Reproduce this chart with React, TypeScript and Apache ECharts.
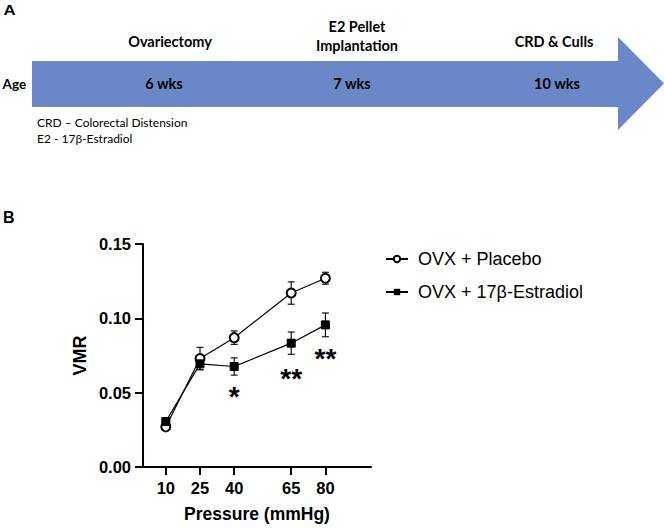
import React, { useEffect, useRef } from "react";
import * as echarts from "echarts";

// ---------- Data ----------
const pressures = [10, 25, 40, 65, 80];
const placeboMean = [0.027, 0.073, 0.087, 0.117, 0.127];
const placeboSem = [0.0015, 0.0075, 0.0045, 0.0075, 0.004];
const e2Mean = [0.0306, 0.0694, 0.0676, 0.0833, 0.0956];
const e2Sem = [0.002, 0.004, 0.0058, 0.0075, 0.008];
const sigLabels = ["", "", "*", "**", "**"];
const sigY = [0, 0, 0.0497, 0.0618, 0.0752];
const seriesNames = ["OVX + Placebo", "OVX + 17β-Estradiol"];

// Panel A timeline content
const events = ["Ovariectomy", "E2 Pellet", "Implantation", "CRD & Culls"];
const ages = ["6 wks", "7 wks", "10 wks"];
const notes = ["CRD – Colorectal Distension", "E2 - 17β-Estradiol"];

const ARIAL = "'Liberation Sans', Arial, sans-serif";
const CAL = "Lato, 'Open Sans', sans-serif";
const ARROW = "#6A88C8";

export default function App() {
  const ref = useRef<HTMLDivElement>(null);

  useEffect(() => {
    if (!ref.current) return;
    const chart = echarts.init(ref.current, undefined, { renderer: "svg" });

    const errRender = (params: any, api: any) => {
      const x = api.value(0);
      const m = api.value(1);
      const s = api.value(2);
      const hi = api.coord([x, m + s]);
      const lo = api.coord([x, m - s]);
      const w = 3.5;
      const st = { stroke: "#000", lineWidth: 1.1 };
      return {
        type: "group",
        children: [
          { type: "line", shape: { x1: hi[0], y1: hi[1], x2: lo[0], y2: lo[1] }, style: st },
          { type: "line", shape: { x1: hi[0] - w, y1: hi[1], x2: hi[0] + w, y2: hi[1] }, style: st },
          { type: "line", shape: { x1: lo[0] - w, y1: lo[1], x2: lo[0] + w, y2: lo[1] }, style: st },
        ],
      };
    };

    const sigData = pressures
      .map((p, i) => ({ p, y: sigY[i], lbl: sigLabels[i] }))
      .filter((d) => d.lbl !== "");

    const sigRender = (params: any, api: any) => {
      const c = api.coord([api.value(0), api.value(1)]);
      return {
        type: "text",
        x: c[0],
        y: c[1] + 3.5,
        style: {
          text: sigData[params.dataIndex].lbl,
          font: `bold 28px ${ARIAL}`,
          fill: "#000",
          textAlign: "center",
          textVerticalAlign: "middle",
        },
      };
    };

    const bt = (text: string, x: number, y: number, opts: any = {}) => ({
      type: "text",
      x,
      y,
      scaleX: opts.scaleX ?? 1,
      style: {
        text,
        fill: "#000",
        font: opts.font ?? `bold 14.5px ${CAL}`,
        textAlign: opts.align ?? "center",
        textVerticalAlign: "middle",
      },
    });

    const option: any = {
      animation: false,
      backgroundColor: "#fff",
      graphic: [
        bt("A", 3.5, 10.5, { font: `bold 14px ${ARIAL}`, align: "left", scaleX: 1.2 }),
        bt("B", 3, 217, { font: `bold 16px ${ARIAL}`, align: "left" }),
        {
          type: "rect",
          shape: { x: 32, y: 61, width: 587, height: 46 },
          style: { fill: ARROW },
        },
        {
          type: "polygon",
          shape: { points: [[618, 37], [664, 83.5], [618, 130]] },
          style: { fill: ARROW },
        },
        bt(events[0], 170, 41),
        bt(events[1], 357, 26.5),
        bt(events[2], 357, 45.5),
        bt(events[3], 554, 41),
        bt("Age", 2.5, 84, { font: `bold 13.5px ${CAL}`, align: "left" }),
        bt(ages[0], 164, 83),
        bt(ages[1], 352, 83),
        bt(ages[2], 557, 83),
        bt(notes[0], 37, 122.5, { font: `12px ${CAL}`, align: "left" }),
        bt(notes[1], 37, 138, { font: `12px ${CAL}`, align: "left" }),
      ],
      grid: { left: 143, right: 293, top: 244, bottom: 61, containLabel: false },
      legend: {
        orient: "vertical",
        left: 380,
        top: 245,
        itemWidth: 22,
        itemHeight: 8,
        itemGap: 15,
        data: seriesNames,
        textStyle: { fontFamily: ARIAL, fontSize: 18, color: "#000", padding: [0, 0, 0, 5] },
      },
      xAxis: {
        type: "value",
        min: 0,
        max: 100,
        name: "Pressure (mmHg)",
        nameLocation: "middle",
        nameGap: 38,
        nameTextStyle: { fontFamily: ARIAL, fontSize: 17.5, fontWeight: "bold", color: "#000" },
        axisLine: { lineStyle: { color: "#000", width: 2 } },
        axisTick: { length: 8, lineStyle: { color: "#000", width: 2 }, customValues: pressures },
        axisLabel: {
          customValues: pressures,
          fontFamily: ARIAL,
          fontSize: 16.5,
          fontWeight: "bold",
          color: "#000",
          margin: 12,
        },
        splitLine: { show: false },
      },
      yAxis: {
        type: "value",
        min: 0,
        max: 0.15,
        interval: 0.05,
        name: "VMR",
        nameLocation: "middle",
        nameRotate: 90,
        nameGap: 54,
        nameTextStyle: { fontFamily: ARIAL, fontSize: 18, fontWeight: "bold", color: "#000" },
        axisLine: { show: true, lineStyle: { color: "#000", width: 2 } },
        axisTick: { show: true, length: 8, lineStyle: { color: "#000", width: 2 } },
        axisLabel: {
          fontFamily: ARIAL,
          fontSize: 16.5,
          fontWeight: "bold",
          color: "#000",
          margin: 12,
          formatter: (v: number) => v.toFixed(2),
        },
        splitLine: { show: false },
      },
      series: [
        {
          type: "custom",
          name: "err1",
          renderItem: errRender,
          encode: { x: 0, y: 1 },
          data: pressures.map((p, i) => [p, placeboMean[i], placeboSem[i]]),
          z: 1,
        },
        {
          type: "custom",
          name: "err2",
          renderItem: errRender,
          encode: { x: 0, y: 1 },
          data: pressures.map((p, i) => [p, e2Mean[i], e2Sem[i]]),
          z: 1,
        },
        {
          type: "line",
          name: seriesNames[0],
          data: pressures.map((p, i) => [p, placeboMean[i]]),
          symbol: "emptyCircle",
          symbolSize: 9,
          showAllSymbol: true,
          lineStyle: { color: "#000", width: 1.2 },
          itemStyle: { color: "#000", borderColor: "#000", borderWidth: 1.6 },
          z: 3,
        },
        {
          type: "line",
          name: seriesNames[1],
          data: pressures.map((p, i) => [p, e2Mean[i]]),
          symbol: "rect",
          symbolSize: 8,
          showAllSymbol: true,
          lineStyle: { color: "#000", width: 1.2 },
          itemStyle: { color: "#000", borderColor: "#000" },
          z: 4,
        },
        {
          type: "custom",
          name: "sig",
          silent: true,
          renderItem: sigRender,
          encode: { x: 0, y: 1 },
          data: sigData.map((d) => [d.p, d.y]),
          z: 5,
        },
      ],
    };

    chart.setOption(option);
    return () => chart.dispose();
  }, []);

  return (
    <div
      ref={ref}
      style={{ position: "fixed", left: 0, top: 0, width: 664, height: 528, background: "#fff" }}
    />
  );
}
